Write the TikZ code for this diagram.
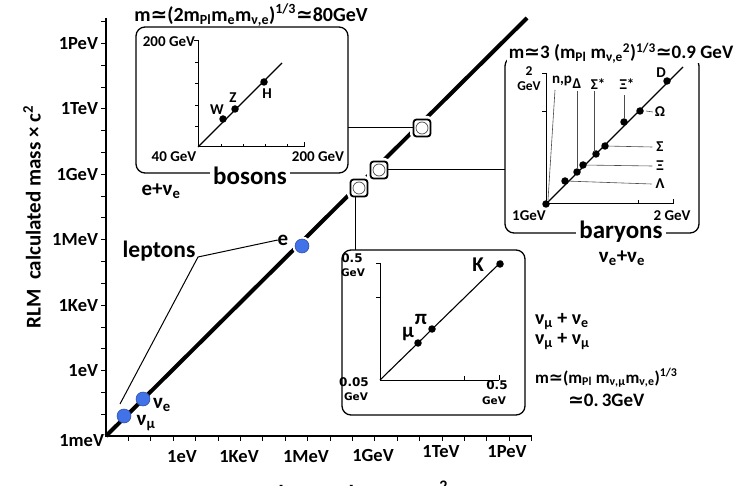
\documentclass[tikz,border=0pt]{standalone}
\usepackage{fontspec}
\setmainfont{Carlito}
\newfontfamily\dvs{DejaVu Sans}
\newcommand\simq{{\dvs\bfseries ≃}}
\definecolor{dotblue}{RGB}{66,114,232}
\definecolor{dotedge}{RGB}{40,70,160}
\begin{document}
\begin{tikzpicture}[x=1pt,y=-1pt,
  every node/.style={inner sep=0pt, outer sep=0pt},
  fs/.style={font=\bfseries\fontsize{#1}{#1}\selectfont},
  dv/.style={font=\dvs\bfseries\fontsize{#1}{#1}\selectfont},
  panel/.style={draw, line width=1.3pt, rounded corners=9pt},
  bdot/.style={circle, fill=dotblue, draw=dotedge, line width=0.5pt, minimum size=14pt},
  sdot/.style={circle, fill=black, minimum size=7.5pt},
  sbox/.style={draw, line width=1.8pt, fill=white, rounded corners=3pt, minimum size=17pt, preaction={draw=white, line width=7pt}},
  ring/.style={draw=gray!60!black, line width=0.7pt},
  tk/.style={line width=1pt},
  itk/.style={line width=0.6pt},
  lead/.style={line width=0.6pt, gray!60!black},
  conn/.style={line width=1pt}
]
\useasboundingbox (0,0) rectangle (741,486);

% main axes
\draw[line width=1.3pt] (106,18) -- (106,436) -- (532,436);
\foreach \k in {1,...,19} {
  \draw[tk] (106,{436-\k*21.8}) -- ++(-5,0);
  \draw[tk] ({106+\k*22.4},436) -- ++(0,5);
}
\node[fs=18.5, anchor=east] (y1) at (98,370.6) {1eV};
\node[fs=18.5, anchor=east] (y2) at (98,305.2) {1KeV};
\node[fs=18.5, anchor=east] (y3) at (98,239.8) {1MeV};
\node[fs=18.5, anchor=east] (y4) at (98,174.4) {1GeV};
\node[fs=18.5, anchor=east] (y5) at (98,109) {1TeV};
\node[fs=18.5, anchor=east] (y6) at (98,43.6) {1PeV};
\node[fs=18.5, anchor=east] (y0) at (104,441) {1meV};
\node[fs=18.5] (x1) at (182,457) {1eV};
\node[fs=18.5] (x2) at (239,457) {1KeV};
\node[fs=18.5] (x3) at (306,457) {1MeV};
\node[fs=18.5] (x4) at (373,455) {1GeV};
\node[fs=18.5] (x5) at (441,452) {1TeV};
\node[fs=18.5] (x6) at (507,452) {1PeV};
\node[fs=21, rotate=90] (ylab) at (32,217) {RLM\ \ calculated mass × c\textsuperscript{2}};
\node[fs=23, anchor=base] (xlab) at (357,501) {observed mass × c\textsuperscript{2}};

% diagonal
\coordinate (O) at (106,436);
\coordinate (T) at (527,18);
\draw[line width=4pt] (O) -- (T);

% leptons
\node[bdot] (numu) at (124,416) {};
\node[bdot] (nue) at (143,399) {};
\node[bdot, preaction={draw=white, line width=5pt}] (e) at (302,246) {};
\node[fs=21] (numul) at (146,423) {ν\textsubscript{μ}};
\node[fs=21] (nuel) at (162,405) {ν\textsubscript{e}};
\node[fs=21] (el) at (283,240) {e};
\node[fs=23.5] (lep) at (159,251) {leptons};
\coordinate (lj) at (198,257);
\coordinate (lm) at (120,404);
\draw[conn] (el.west) -- (lj) -- (lm);

% panels
\node[panel, minimum width=212pt, minimum height=146pt] (bos) at (242,100) {};
\node[panel, minimum width=194pt, minimum height=176pt] (bar) at (602,145) {};
\node[panel, minimum width=183pt, minimum height=165pt] (mes) at (433.5,332.5) {};

% small boxes
\node[sbox] (b1) at (422,128) {};
\node[sbox] (b2) at (379,170) {};
\node[sbox] (b3) at (359,188) {};
\draw[ring] (b1) circle (6pt);
\draw[ring] (b2) circle (6pt);
\draw[ring] (b3) circle (6pt);
\draw[conn] (b1.west) -- (b1.west -| bos.east);
\draw[conn] (b2.east) -- (b2.east -| bar.west);
\draw[conn] ([xshift=-4pt]b3.south) -- ([xshift=-4pt]b3.south |- mes.north);

% bosons panel content
\coordinate (bo) at (198,147);
\draw[conn] (198,40) -- (bo) -- (304,147);
\draw[itk] (198,40) -- ++(-4,0);
\draw[itk] (304,147) -- ++(0,-5);
\foreach \yy in {62,83,105,126} \draw[itk] (198,\yy) -- ++(-3,0);
\foreach \xx in {221,243,265,287} \draw[itk] (\xx,147) -- ++(0,-3);
\draw[line width=1.1pt] (bo) -- (282,63);
\node[sdot] (W) at (223,119) {};
\node[sdot] (Z) at (235,109) {};
\node[sdot] (H) at (264,82) {};
\node[fs=15] (Wl) at (217,110) {W};
\node[fs=15] (Zl) at (233,98) {Z};
\node[fs=15] (Hl) at (267,94) {H};
\node[fs=15, anchor=east] (bya) at (195,42) {200 GeV};
\node[fs=15] (bxo) at (174,157) {40 GeV};
\node[fs=15] (bxa) at (318,157) {200 GeV};
\node[fs=20] (bostitle) at (251,15) {m\simq(2m\textsubscript{Pl}m\textsubscript{e}m\textsubscript{ν,e})\textsuperscript{1/3}\simq80GeV};
\node[fs=25, fill=white, inner xsep=3pt] (bosl) at (250,176) {bosons};
\node[fs=21] (bosnu) at (161,191) {e+ν\textsubscript{e}};

% baryons panel content
\node[fs=19, fill=white, inner xsep=2pt] (bartitle) at (621,53) {m\simq3 (m\textsubscript{Pl} m\textsubscript{ν,e}\textsuperscript{2})\textsuperscript{1/3}\simq0.9 GeV};
\coordinate (ba) at (546,204);
\draw[conn] (546,73) -- (ba) -- (673,204);
\draw[itk] (546,73) -- ++(-4,0);
\draw[itk] (546,111) -- ++(-4,0);
\draw[itk] (638,204) -- ++(0,-4);
\draw[itk] (673,204) -- ++(0,-5);
\draw[line width=1.1pt] (ba) -- (683,67);
\node[sdot] (d0) at (546,204) {};
\node[sdot] (d1) at (565,181) {};
\node[sdot] (d2) at (577,172) {};
\node[sdot] (d3) at (583,165) {};
\node[sdot] (d4) at (596,154) {};
\node[sdot] (d5) at (605,146) {};
\node[sdot] (d6) at (624,122) {};
\node[sdot] (d7) at (640,111) {};
\node[sdot] (d8) at (667,81) {};
\node[fs=15] (lnp) at (562,81) {n,p};
\node[fs=15] (lD) at (577,84) {Δ};
\node[fs=15] (lSs) at (598,84) {Σ*};
\node[fs=15] (lXs) at (627,84) {Ξ*};
\node[fs=15] (lDD) at (661,73) {D};
\node[fs=15] (lO) at (660,112) {Ω};
\node[fs=15] (lS) at (660,147) {Σ};
\node[fs=15] (lX) at (660,166) {Ξ};
\node[fs=15] (lL) at (660,184) {Λ};
\draw[lead] (555,90) -- (548,200);
\draw[lead] (577,91) -- (d2);
\draw[lead] (594,91) -- (594,152);
\draw[lead] (624,95) -- (d6);
\draw[lead] (646,111) -- ([xshift=-2pt]lO.west);
\draw[lead] (d5) -- ([xshift=-4pt]lS.west);
\draw[lead] (d3) -- ([xshift=-4pt]lX.west);
\draw[lead] (d1) -- ([xshift=-4pt]lL.west);
\node[fs=13.5] (b2a) at (529,71.5) {2};
\node[fs=13.5] (b2b) at (529,86.5) {GeV};
\node[fs=15] (b1g) at (529,216) {1GeV};
\node[fs=15] (b2g) at (672,216) {2 GeV};
\node[fs=25, fill=white, inner xsep=3pt] (barl) at (621,232) {baryons};
\node[fs=21] (barnu) at (622,258) {ν\textsubscript{e}+ν\textsubscript{e}};

% mesons panel content
\coordinate (mo) at (380,380);
\draw[conn] (380,263) -- (mo) -- (499,380);
\draw[itk] (380,263) -- ++(-4,0);
\draw[itk] (380,297) -- ++(-4,0);
\draw[itk] (464,380) -- ++(0,-4);
\draw[itk] (499,380) -- ++(0,-5);
\draw[line width=1.1pt] (mo) -- (502,261);
\node[sdot] (mu) at (418,343) {};
\node[sdot] (pi) at (432,329) {};
\node[sdot] (K) at (500,264) {};
\node[fs=21] (mul) at (408,334) {μ};
\node[fs=21] (pil) at (421,319) {π};
\node[fs=21] (Kl) at (478,265) {K};
\node[dv=12] (m1) at (352,258) {0.5};
\node[dv=10.5] (m2) at (353,273) {GeV};
\node[dv=12] (m3) at (354,382) {0.05};
\node[dv=10.5] (m4) at (356,397) {GeV};
\node[dv=12] (m5) at (497,385) {0.5};
\node[dv=10.5] (m6) at (494,401) {GeV};

% meson texts
\node[fs=20, anchor=west] (r1) at (535,322) {ν\textsubscript{μ} + ν\textsubscript{e}};
\node[fs=20, anchor=west] (r2) at (535,342) {ν\textsubscript{μ} + ν\textsubscript{μ}};
\node[fs=17, anchor=west] (r3) at (535,378) {m\simq(m\textsubscript{Pl} m\textsubscript{ν,μ}m\textsubscript{ν,e})\textsuperscript{1/3}};
\node[fs=19, anchor=west] (r4) at (568,400) {\simq0.\,3GeV};
\end{tikzpicture}
\end{document}
